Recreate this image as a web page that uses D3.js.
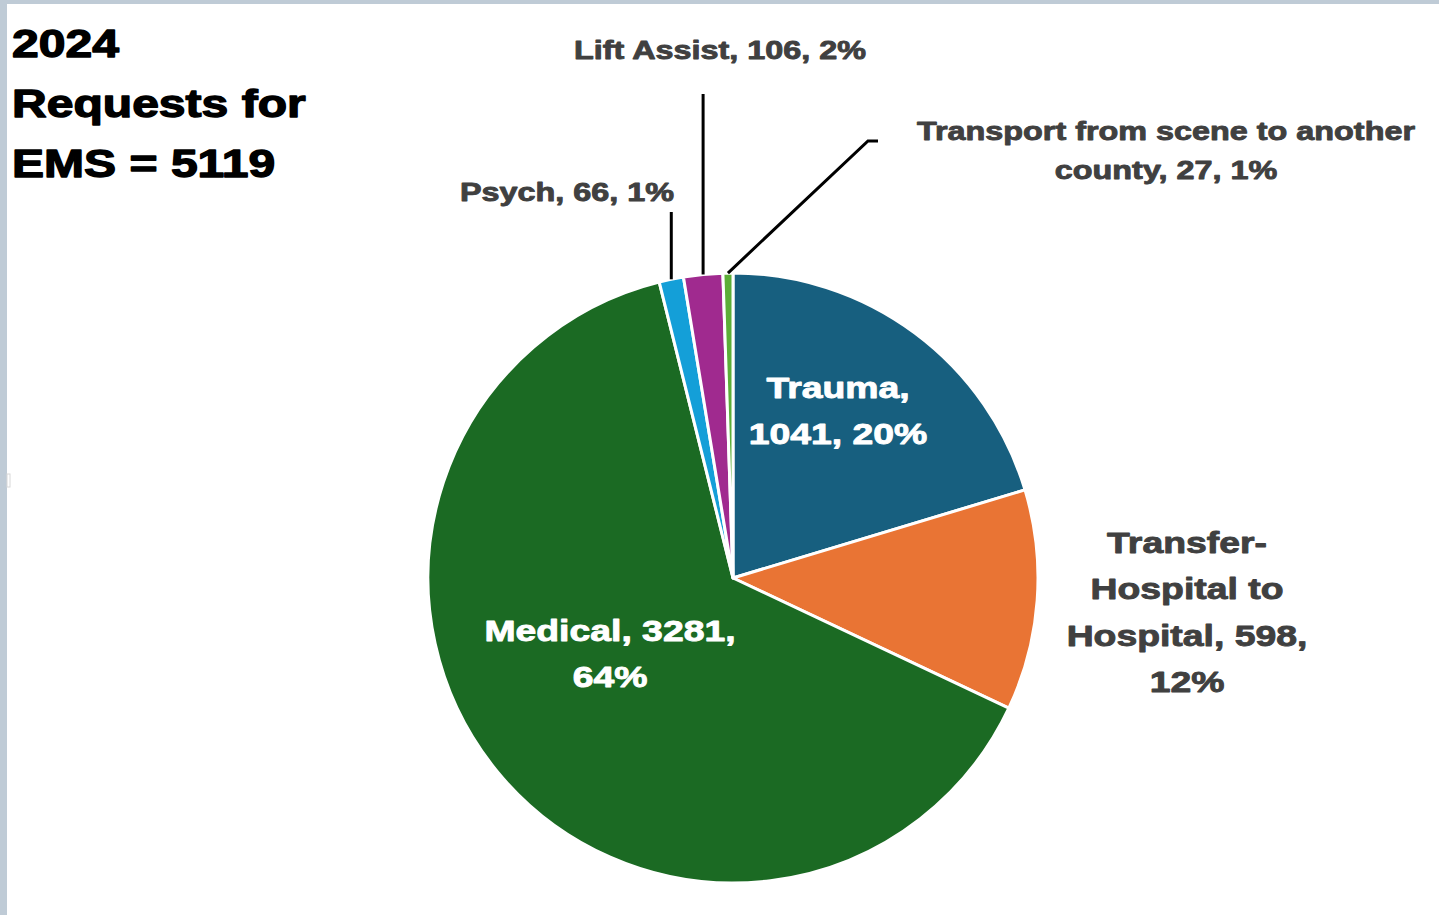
<!DOCTYPE html>
<html>
<head>
<meta charset="utf-8">
<script src="https://cdn.jsdelivr.net/npm/d3@7"></script>
<style>
  html, body { margin: 0; padding: 0; background: #fff; }
  svg { display: block; }
  text { font-family: "Liberation Sans", Arial, sans-serif; font-weight: bold; }
</style>
</head>
<body>
<svg id="chart" width="1439" height="915"></svg>
<script>
// ---- data ----
const categories = ["Trauma", "Transfer-Hospital to Hospital", "Medical", "Psych", "Lift Assist", "Transport from scene to another county"];
const values = [1041, 598, 3281, 66, 106, 27];
const colors = ["#175F7F", "#E97434", "#1B6A23", "#149FD8", "#A02A8F", "#5CAE37"];
const titleLines = ["2024", "Requests for", "EMS = 5119"];
// label line breaks (text wrapping as in the original)
const labelLines = [
  ["Trauma,", "1041, 20%"],
  ["Transfer-", "Hospital to", "Hospital, 598,", "12%"],
  ["Medical, 3281,", "64%"],
  ["Psych, 66, 1%"],
  ["Lift Assist, 106, 2%"],
  ["Transport from scene to another", "county, 27, 1%"]
];

// ---- layout ----
const W = 1439, H = 915;
const cx = 733, cy = 578, R = 305;
const SX = 1.245; // horizontal stretch of the original lettering
const svg = d3.select("#chart");

// frame
svg.append("rect").attr("x", 0).attr("y", 0).attr("width", W).attr("height", 4).attr("fill", "#BFCBD6");
svg.append("rect").attr("x", 0).attr("y", 0).attr("width", 7).attr("height", H).attr("fill", "#BFCBD6");
svg.append("rect").attr("x", 7).attr("y", 474).attr("width", 3).attr("height", 13).attr("fill", "none")
  .attr("stroke", "#d8d8d8").attr("stroke-width", 1);

function stext(x, y, str, opts) {
  const g = svg.append("g").attr("transform", `translate(${x},${y}) scale(${opts.sx || SX},1)`);
  g.append("text").attr("x", 0).attr("y", 0)
    .attr("text-anchor", opts.anchor || "middle")
    .attr("font-size", opts.size)
    .attr("fill", opts.fill)
    .attr("stroke", opts.fill).attr("stroke-width", opts.sw || 0.4)
    .attr("stroke-linejoin", "round")
    .text(str);
}

// title
titleLines.forEach((t, i) => stext(12, 57 + i * 60, t, { anchor: "start", size: 38, fill: "#000", sw: 1.3, sx: 1.265 }));

// pie
const pie = d3.pie().sort(null).value(d => d)(values);
const arc = d3.arc().innerRadius(0).outerRadius(R);
const edge = d3.arc().innerRadius(R).outerRadius(R);
const total = d3.sum(values);
const pg = svg.append("g").attr("transform", `translate(${cx},${cy})`);
pg.selectAll("path").data(pie).join("path")
  .attr("d", arc)
  .attr("fill", (d, i) => colors[i])
  .attr("stroke", "#fff").attr("stroke-width", 3).attr("stroke-linejoin", "round");

// leader lines for the small slices
const leaderEnds = { 3: [[0, 212 - cy]], 4: [[0, 94 - cy]], 5: [[868 - cx, 141 - cy], [878 - cx, 141 - cy]] };
Object.keys(leaderEnds).forEach(k => {
  const i = +k;
  const p = edge.centroid(pie[i]);
  const pts = [p].concat(leaderEnds[k].map((q, j) => (i !== 5 && j === 0) ? [p[0], q[1]] : q));
  pg.append("path").attr("d", d3.line()(pts)).attr("fill", "none")
    .attr("stroke", "#000").attr("stroke-width", 3);
});

// labels
const labelPos = [
  { x: 838, y: 398, dy: 46, size: 30, fill: "#fff" },
  { x: 1187, y: 553, dy: 46.3, size: 30, fill: "#404040" },
  { x: 610, y: 641, dy: 46, size: 30, fill: "#fff" },
  { x: 567, y: 201, dy: 0, size: 26, fill: "#404040" },
  { x: 720, y: 59, dy: 0, size: 26, fill: "#404040" },
  { x: 1166, y: 140, dy: 39, size: 26, fill: "#404040" }
];
labelLines.forEach((lines, i) => {
  const p = labelPos[i];
  lines.forEach((ln, j) => stext(p.x, p.y + j * p.dy, ln, { size: p.size, fill: p.fill, sw: 0.9 }));
});
</script>
</body>
</html>
